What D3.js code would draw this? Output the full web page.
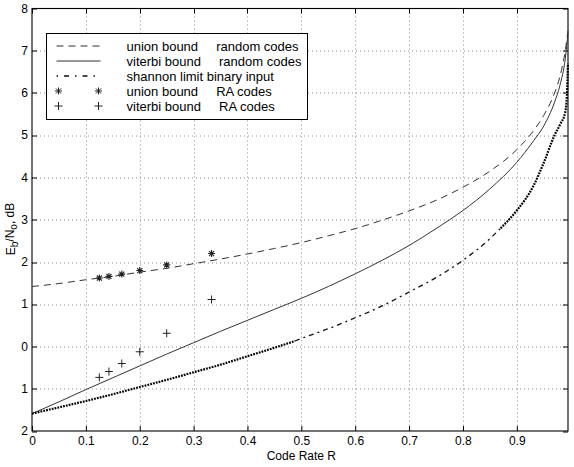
<!DOCTYPE html>
<html>
<head>
<meta charset="utf-8">
<script src="https://cdn.jsdelivr.net/npm/d3@7"></script>
<style>
  body { margin: 0; background: #fff; overflow: hidden; }
  svg { display: block; }
  svg text { font-family: "Liberation Sans", Arial, sans-serif; fill: #000; }
</style>
</head>
<body>
<div id="vis"></div>
<script>
// code rates used for both random-code bounds
var rate = [0, 0.05, 0.1, 0.15, 0.2, 0.25, 0.3, 0.35, 0.4, 0.45, 0.5, 0.55, 0.6,
  0.65, 0.7, 0.75, 0.8, 0.85, 0.9, 0.93, 0.95, 0.97, 0.98, 0.99, 0.995];
// union bound, random codes (dB)
var unionRandom = [1.42, 1.49, 1.58, 1.66, 1.76, 1.85, 1.96, 2.07, 2.19, 2.32, 2.46, 2.62, 2.79,
  2.99, 3.21, 3.46, 3.77, 4.15, 4.66, 5.09, 5.47, 6.00, 6.39, 7.01, 7.48];
// viterbi bound, random codes (dB)
var viterbiRandom = [-1.59, -1.31, -1.02, -0.74, -0.46, -0.18, 0.09, 0.36, 0.62, 0.88, 1.14, 1.42, 1.72,
  2.04, 2.39, 2.79, 3.22, 3.73, 4.36, 4.85, 5.22, 5.78, 6.18, 6.82, 7.42];

// shannon limit, binary input
var shannonRate = [0, 0.05, 0.1, 0.15, 0.2, 0.25, 0.3, 0.35, 0.4, 0.45, 0.488, 0.5, 0.55, 0.6,
  0.65, 0.7, 0.75, 0.8, 0.85, 0.87, 0.9, 0.93, 0.95, 0.97, 0.98, 0.99, 0.993, 0.995];
var shannonLimit = [-1.59, -1.44, -1.29, -1.13, -0.96, -0.79, -0.61, -0.43, -0.23, -0.03, 0.13, 0.19, 0.42, 0.68,
  0.96, 1.29, 1.63, 2.04, 2.55, 2.80, 3.22, 3.78, 4.35, 5.00, 5.25, 5.55, 5.95, 6.70];

// RA codes, q = 8 ... 3
var raRate = [1 / 8, 1 / 7, 1 / 6, 1 / 5, 1 / 4, 1 / 3];
var raUnion = [1.621, 1.659, 1.714, 1.798, 1.931, 2.200];
var raViterbi = [-0.731, -0.592, -0.402, -0.125, 0.313, 1.112];

var xTicks = [0, 0.1, 0.2, 0.3, 0.4, 0.5, 0.6, 0.7, 0.8, 0.9];
var yTicks = [-2, -1, 0, 1, 2, 3, 4, 5, 6, 7, 8];
var yTickLabels = ['2', '1', '0', '1', '2', '3', '4', '5', '6', '7', '8'];

var legendLabels = [
  'union bound     random codes',
  'viterbi bound     random codes',
  'shannon limit binary input',
  'union bound     RA codes',
  'viterbi bound     RA codes'
];

var width = 574, height = 467;
var margin = { top: 8.5, left: 32, right: 6, bottom: 36 };
var w = width - margin.left - margin.right;
var h = height - margin.top - margin.bottom;

var svg = d3.select('#vis').append('svg')
  .attr('width', width)
  .attr('height', height);

var x = d3.scaleLinear().domain([0, 0.995]).range([0, w]);
var y = d3.scaleLinear().domain([-2, 8]).range([h, 0]);

var g = svg.append('g')
  .attr('transform', 'translate(' + margin.left + ',' + margin.top + ')');

// dotted grid
g.append('g').selectAll('line')
  .data(xTicks.slice(1))
  .enter().append('line')
  .attr('x1', function(d) { return Math.round(x(d)) + 0.5; })
  .attr('x2', function(d) { return Math.round(x(d)) + 0.5; })
  .attr('y1', 0).attr('y2', h)
  .attr('stroke', '#8a8a8a')
  .attr('stroke-dasharray', '1,3');

g.append('g').selectAll('line')
  .data(yTicks.slice(1, -1))
  .enter().append('line')
  .attr('y1', function(d) { return Math.round(y(d)) + 0.5; })
  .attr('y2', function(d) { return Math.round(y(d)) + 0.5; })
  .attr('x1', 0).attr('x2', w)
  .attr('stroke', '#8a8a8a')
  .attr('stroke-dasharray', '1,3');

// bottom axis with labels, inward ticks
var fmtX = function(d) { return d === 0 ? '0' : d3.format('.1f')(d); };
var xAxis = g.append('g')
  .attr('transform', 'translate(0,' + h + ')')
  .call(d3.axisBottom(x).tickValues(xTicks).tickFormat(fmtX).tickSizeInner(-5).tickSizeOuter(0).tickPadding(5));
xAxis.select('.domain').remove();
xAxis.selectAll('.tick line').attr('stroke', '#000');
xAxis.selectAll('text').attr('font-size', 12).attr('fill', '#000');

// inward ticks on top, left and right
var ticks = g.append('g').attr('stroke', '#000');
ticks.selectAll('.tt')
  .data(xTicks)
  .enter().append('line')
  .attr('class', 'tt')
  .attr('x1', function(d) { return Math.round(x(d)) + 0.5; })
  .attr('x2', function(d) { return Math.round(x(d)) + 0.5; })
  .attr('y1', 0).attr('y2', 5);
ticks.selectAll('.tl')
  .data(yTicks)
  .enter().append('line')
  .attr('class', 'tl')
  .attr('y1', function(d) { return Math.round(y(d)) + 0.5; })
  .attr('y2', function(d) { return Math.round(y(d)) + 0.5; })
  .attr('x1', 0).attr('x2', 5);
ticks.selectAll('.tr')
  .data(yTicks)
  .enter().append('line')
  .attr('class', 'tr')
  .attr('y1', function(d) { return Math.round(y(d)) + 0.5; })
  .attr('y2', function(d) { return Math.round(y(d)) + 0.5; })
  .attr('x1', w - 5).attr('x2', w);

// frame
g.append('rect')
  .attr('x', 0).attr('y', 0)
  .attr('width', w).attr('height', h)
  .attr('fill', 'none')
  .attr('stroke', '#000')
  .attr('stroke-width', 1.1);

// curves
var line = d3.line()
  .x(function(d) { return x(d[0]); })
  .y(function(d) { return y(d[1]); })
  .curve(d3.curveMonotoneX);

var unionPts = rate.map(function(r, i) { return [r, unionRandom[i]]; });
var viterbiPts = rate.map(function(r, i) { return [r, viterbiRandom[i]]; });
var shannonPts = shannonRate.map(function(r, i) { return [r, shannonLimit[i]]; });

g.append('path')
  .attr('d', line(unionPts))
  .attr('fill', 'none')
  .attr('stroke', '#333')
  .attr('stroke-width', 1)
  .attr('stroke-dasharray', '7,5');

g.append('path')
  .attr('d', line(viterbiPts))
  .attr('fill', 'none')
  .attr('stroke', '#333')
  .attr('stroke-width', 1);

// shannon: dense samples at both ends show up as chains of dots
var denseLow = 0.488, denseHigh = 0.87;
var shLow = shannonPts.filter(function(d) { return d[0] <= denseLow; });
var shMid = shannonPts.filter(function(d) { return d[0] >= denseLow && d[0] <= denseHigh; });
var shHigh = shannonPts.filter(function(d) { return d[0] >= denseHigh; });

g.append('path')
  .attr('d', line(shMid))
  .attr('fill', 'none')
  .attr('stroke', '#111')
  .attr('stroke-width', 1.3)
  .attr('stroke-dasharray', '5,4,2,4');

[shLow, shHigh].forEach(function(seg) {
  g.append('path')
    .attr('d', line(seg))
    .attr('fill', 'none')
    .attr('stroke', '#000')
    .attr('stroke-width', 2.2)
    .attr('stroke-dasharray', '1.8,1.1');
});

// markers
var symbolStar = {
  draw: function(context, size) {
    var r = Math.sqrt(size) / 2, q = r * 0.72;
    context.moveTo(-r, 0); context.lineTo(r, 0);
    context.moveTo(0, -r); context.lineTo(0, r);
    context.moveTo(-q, -q); context.lineTo(q, q);
    context.moveTo(-q, q); context.lineTo(q, -q);
  }
};
var symbolCross = {
  draw: function(context, size) {
    var r = Math.sqrt(size) / 2;
    context.moveTo(-r, 0); context.lineTo(r, 0);
    context.moveTo(0, -r); context.lineTo(0, r);
  }
};

g.selectAll('.star')
  .data(raRate)
  .enter().append('path')
  .attr('class', 'star')
  .attr('transform', function(d, i) { return 'translate(' + x(d) + ',' + y(raUnion[i]) + ')'; })
  .attr('d', d3.symbol().type(symbolStar).size(49))
  .attr('fill', 'none')
  .attr('stroke', '#222')
  .attr('stroke-width', 1.1);

g.selectAll('.cross')
  .data(raRate)
  .enter().append('path')
  .attr('class', 'cross')
  .attr('transform', function(d, i) { return 'translate(' + x(d) + ',' + y(raViterbi[i]) + ')'; })
  .attr('d', d3.symbol().type(symbolCross).size(64))
  .attr('fill', 'none')
  .attr('stroke', '#222')
  .attr('stroke-width', 1);

// legend
var legend = svg.append('g').attr('transform', 'translate(46.5,33.5)');
legend.append('rect')
  .attr('width', 261).attr('height', 86)
  .attr('fill', '#fff')
  .attr('stroke', '#000')
  .attr('stroke-width', 1);

var rows = legend.selectAll('.row')
  .data(legendLabels)
  .enter().append('g')
  .attr('class', 'row')
  .attr('transform', function(d, i) { return 'translate(0,' + (12.5 + i * 15) + ')'; });

rows.append('text')
  .attr('x', 80)
  .attr('dy', '0.35em')
  .attr('font-size', 13)
  .style('white-space', 'pre')
  .text(function(d) { return d; });

rows.filter(function(d, i) { return i < 3; })
  .append('line')
  .attr('x1', 10).attr('x2', 54)
  .attr('stroke', function(d, i) { return i === 2 ? '#111' : '#333'; })
  .attr('stroke-width', function(d, i) { return i === 2 ? 1.4 : 1; })
  .attr('stroke-dasharray', function(d, i) {
    return i === 0 ? '7,5' : (i === 1 ? null : '1.5,6,5,6');
  });

rows.filter(function(d, i) { return i >= 3; })
  .selectAll('path')
  .data(function(d, i) { return [12, 52].map(function(px) { return { px: px, row: i }; }); })
  .enter().append('path')
  .attr('transform', function(d) { return 'translate(' + d.px + ',0)'; })
  .attr('d', function(d) {
    return d3.symbol().type(d.row === 0 ? symbolStar : symbolCross).size(d.row === 0 ? 49 : 64)();
  })
  .attr('fill', 'none')
  .attr('stroke', '#222')
  .attr('stroke-width', 1);

// axis labels
svg.append('text')
  .attr('x', margin.left + x(0.5))
  .attr('y', 460)
  .attr('text-anchor', 'middle')
  .attr('font-size', 12)
  .text('Code Rate R');

var yl = svg.append('text')
  .attr('transform', 'translate(15,229) rotate(-90)')
  .attr('text-anchor', 'middle')
  .attr('font-size', 12);
yl.append('tspan').text('E');
yl.append('tspan').attr('font-size', 10).attr('dy', '0.3em').text('b');
yl.append('tspan').attr('dy', '-0.3em').text('/N');
yl.append('tspan').attr('font-size', 10).attr('dy', '0.3em').text('o');
yl.append('tspan').attr('dy', '-0.3em').text(', dB');

// y tick labels, one text per tick (the minus signs are missing in the original figure)
var ylabels = svg.append('g').attr('class', 'ylabels');
yTicks.forEach(function(d, i) {
  ylabels.append('text')
    .attr('x', margin.left - 4)
    .attr('y', margin.top + y(d) + 4)
    .attr('text-anchor', 'end')
    .attr('font-size', 12)
    .text(yTickLabels[i]);
});
</script>
</body>
</html>
